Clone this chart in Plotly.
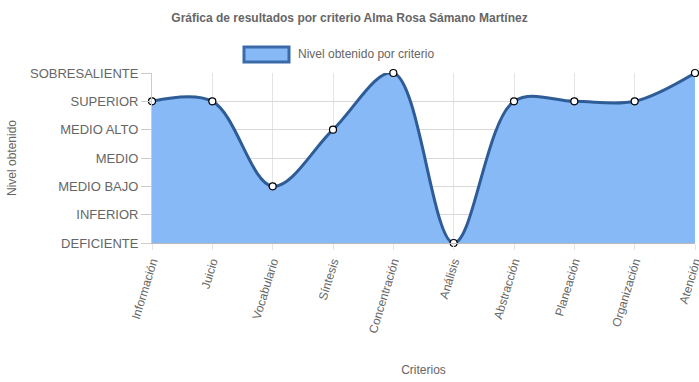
import plotly.graph_objects as go

criterios = ["Información", "Juicio", "Vocabulario", "Síntesis", "Concentración",
             "Análisis", "Abstracción", "Planeación", "Organización", "Atención"]
niveles = [5, 5, 2, 4, 6, 0, 5, 5, 5, 6]
nivel_labels = ["DEFICIENTE", "INFERIOR", "MEDIO BAJO", "MEDIO", "MEDIO ALTO",
                "SUPERIOR", "SOBRESALIENTE"]
serie_nombre = "Nivel obtenido por criterio"
titulo = "Gráfica de resultados por criterio Alma Rosa Sámano Martínez"

FILL = "#87b9f7"
LINE = "#2e5c96"
GRID = "#e4e4e4"
TXT = "#666666"
FONT = "Liberation Sans, Arial, sans-serif"

W, H = 699, 382
L, R, T, B = 152, 4, 73, 139
PW, PH = W - L - R, H - T - B

fig = go.Figure()
fig.add_trace(go.Scatter(
    x=criterios, y=niveles, mode="lines+markers", name=serie_nombre,
    line=dict(color=LINE, width=3, shape="spline", smoothing=1.0),
    fill="tozeroy", fillcolor=FILL,
    marker=dict(size=7, color="white", line=dict(color="black", width=1.2)),
    cliponaxis=False, showlegend=False,
))

fig.update_layout(
    width=W, height=H,
    margin=dict(l=L, r=R, t=T, b=B, autoexpand=False),
    paper_bgcolor="white", plot_bgcolor="white",
    font=dict(family=FONT, color=TXT, size=12),
    title=dict(text="<b>" + titulo + "</b>", x=0.5, xanchor="center",
               y=1 - 18 / H, yanchor="middle",
               font=dict(size=12, color=TXT, family=FONT)),
    xaxis=dict(
        type="category", range=[0, len(criterios) - 1], automargin=False,
        showgrid=True, gridcolor=GRID, gridwidth=1,
        ticks="outside", ticklen=6, tickcolor=GRID,
        tickangle=-73, tickfont=dict(size=12, color=TXT),
        showline=True, linecolor="#bbbbbb", linewidth=1,
        title=dict(text="Criterios", font=dict(size=12, color=TXT), standoff=31),
        zeroline=False,
    ),
    yaxis=dict(
        range=[0, 6], tickvals=list(range(len(nivel_labels))), ticktext=nivel_labels,
        automargin=False,
        showgrid=True, gridcolor="#d8d8d8", gridwidth=1,
        ticks="outside", ticklen=10, tickcolor="#cccccc",
        tickfont=dict(size=13, color=TXT),
        showline=True, linecolor="#cccccc",
        title=dict(text="Nivel obtenido", font=dict(size=12, color=TXT), standoff=10),
        zeroline=False,
    ),
)

# Legend drawn as box + text
fig.add_shape(type="rect", xref="paper", yref="paper",
              x0=(244 - L) / PW, x1=(289 - L) / PW,
              y0=(H - B - 62) / PH, y1=(H - B - 47) / PH,
              fillcolor=FILL, line=dict(color="#3a6aaa", width=3))
fig.add_annotation(xref="paper", yref="paper",
                   x=(296 - L) / PW, y=(H - B - 54.5) / PH,
                   xanchor="left", yanchor="middle", showarrow=False,
                   text=serie_nombre, font=dict(size=12, color=TXT, family=FONT))

fig.write_html("out.html", config={"displayModeBar": False},
               post_script="document.body.style.margin='0';document.body.style.overflow='hidden';")
